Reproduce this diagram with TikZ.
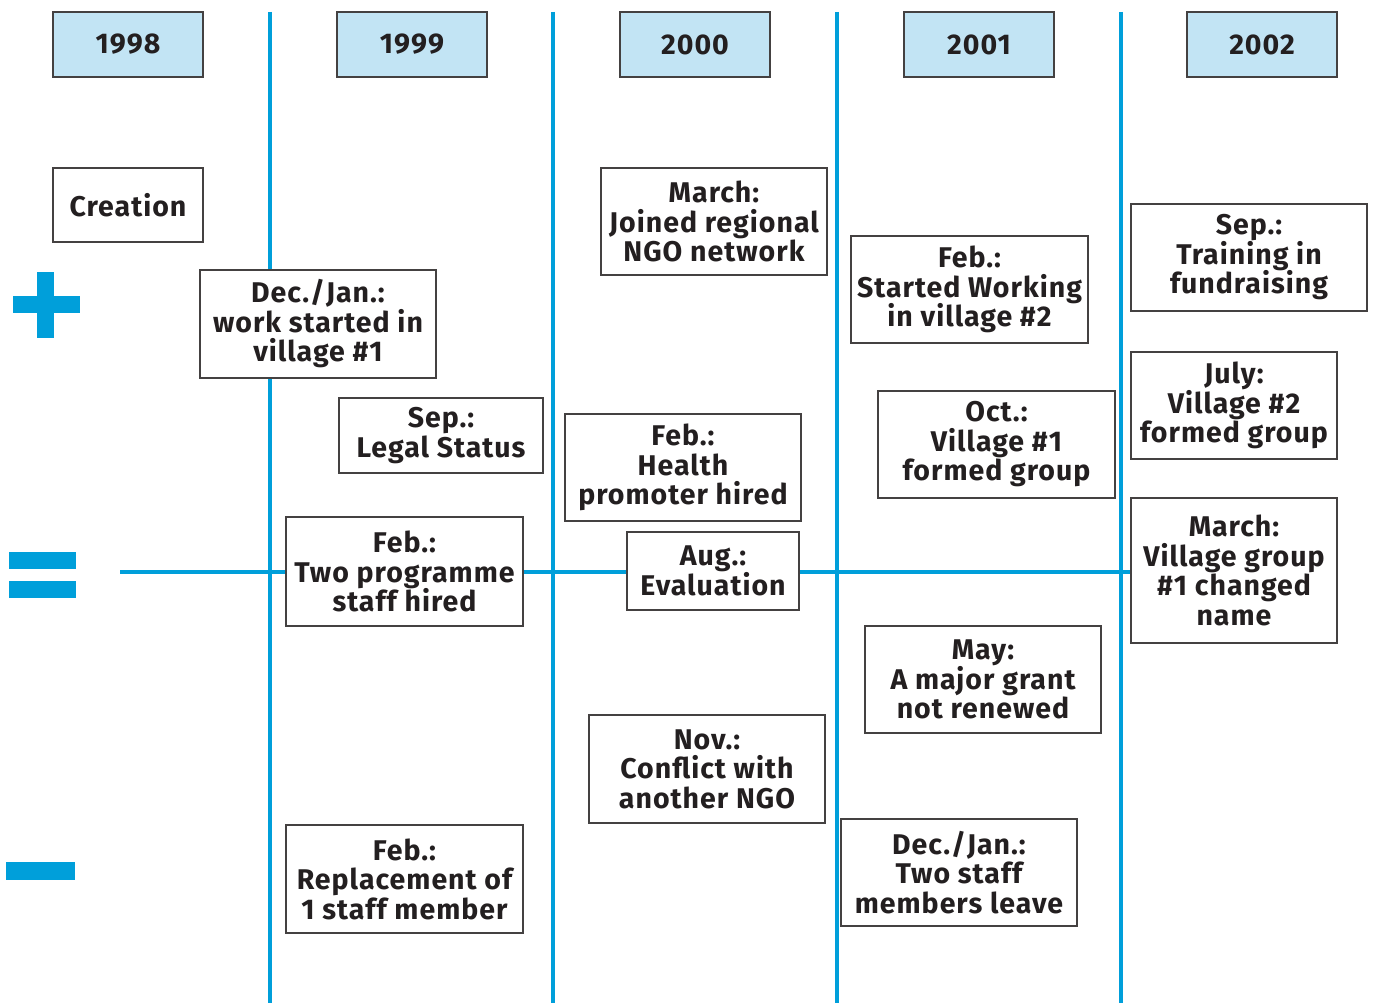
\documentclass[tikz,border=0pt]{standalone}
\usepackage{fontspec}
\setmainfont{Fira Sans}[LetterSpace=3.5]
\definecolor{tlblue}{HTML}{009FDA}
\definecolor{yrfill}{HTML}{C2E4F4}
\definecolor{ink}{HTML}{231F20}
\begin{document}
\begin{tikzpicture}[x=1pt,y=-1pt,
  ev/.style={draw=ink!85, line width=1.2pt, fill=white, inner sep=0pt, align=center,
    text=ink, font=\fontsize{28.5}{29.5}\selectfont\bfseries},
  yr/.style={ev, fill=yrfill, minimum width=150pt, minimum height=65pt},
  tl/.style={draw=tlblue, line width=4.2pt},
  sym/.style={fill=tlblue, draw=none}]
\useasboundingbox (0,0) rectangle (1374,1003);
% timeline coordinates
\foreach \i/\x in {1/270,2/553,3/837,4/1121}{
  \coordinate (t\i) at (\x,12);
  \coordinate (b\i) at (\x,1003);
  \draw[tl] (t\i) -- (b\i);
}
\coordinate (hl) at (120,572);
\coordinate (hr) at (1131,572);
\draw[tl] (hl) -- (hr);
% symbols
\fill[sym] (13,296) rectangle (80,313);
\fill[sym] (37,272) rectangle (54,338);
\fill[sym] (9,552) rectangle (76,569);
\fill[sym] (9,581) rectangle (76,598);
\fill[sym] (6,862) rectangle (75,880);
% years
\node[yr] (y98) at (128,44.5) {1998};
\node[yr] (y99) at (412,44.5) {1999};
\node[yr] (y00) at (695,44.5) {2000};
\node[yr] (y01) at (979,44.5) {2001};
\node[yr] (y02) at (1262,44.5) {2002};
% events
\node[ev, minimum width=150pt, minimum height=74pt] (creation) at (128,205) {Creation};
\node[ev, minimum width=236pt, minimum height=108pt] (decjan) at (318,324) {Dec./Jan.:\\work started in\\village \#1};
\node[ev, minimum width=204pt, minimum height=75pt] (legal) at (441,435.5) {Sep.:\\Legal Status};
\node[ev, minimum width=237pt, minimum height=109pt] (twoprog) at (404.5,571.5) {Feb.:\\Two programme\\staff hired};
\node[ev, minimum width=237pt, minimum height=108pt] (replace) at (404.5,879) {Feb.:\\Replacement of\\1 staff member};
\node[ev, minimum width=226pt, minimum height=107pt] (march) at (714,221.5) {March:\\Joined regional\\NGO network};
\node[ev, minimum width=236pt, minimum height=107pt] (health) at (683,467.5) {Feb.:\\Health\\promoter hired};
\node[ev, minimum width=172pt, minimum height=78pt] (aug) at (713,571) {Aug.:\\Evaluation};
\node[ev, minimum width=236pt, minimum height=108pt] (nov) at (707,769) {Nov.:\\Conflict with\\another NGO};
\node[ev, minimum width=237pt, minimum height=107pt] (feb01) at (969.5,289.5) {Feb.:\\Started Working\\in village \#2};
\node[ev, minimum width=237pt, minimum height=107pt] (oct) at (996.5,444.5) {Oct.:\\Village \#1\\formed group};
\node[ev, minimum width=236pt, minimum height=107pt] (may) at (983,679.5) {May:\\A major grant\\not renewed};
\node[ev, minimum width=236pt, minimum height=107pt] (decjan01) at (959,872.5) {Dec./Jan.:\\Two staff\\members leave};
\node[ev, minimum width=236pt, minimum height=107pt] (sep02) at (1249,257.5) {Sep.:\\Training in\\fundraising};
\node[ev, minimum width=206pt, minimum height=107pt] (july) at (1234,405.5) {July:\\Village \#2\\formed group};
\node[ev, minimum width=206pt, minimum height=145pt] (mar02) at (1234,570.5) {March:\\Village group\\\#1 changed\\name};
\end{tikzpicture}
\end{document}
